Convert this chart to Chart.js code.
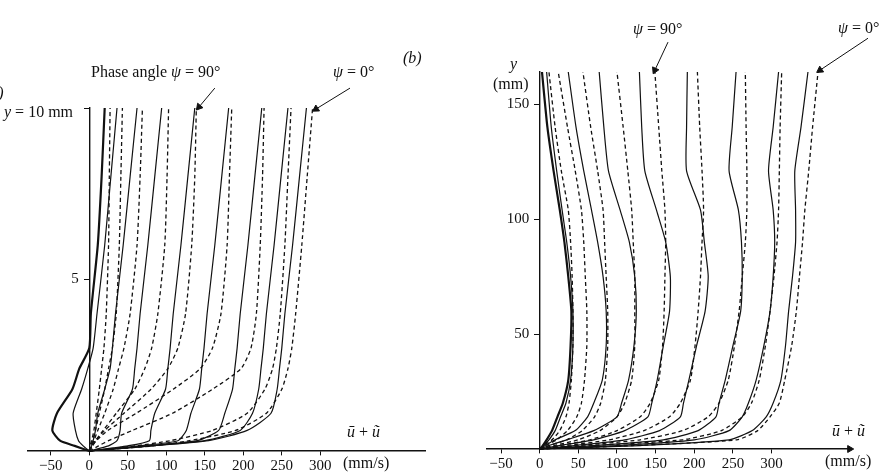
<!DOCTYPE html>
<html><head><meta charset="utf-8">
<title>Velocity profiles over a phase cycle</title>
<style>
  body { margin: 0; background: #fff; font-family: 'Liberation Serif', 'DejaVu Serif', serif; }
  #wrap { position: relative; width: 883px; height: 474px; overflow: hidden; }
  canvas { position: absolute; top: 0; }
  .lbl { position: absolute; font-size: 16px; color: #111; white-space: nowrap; line-height: 1; }
</style>
<script src="https://cdn.jsdelivr.net/npm/chart.js"></script>
</head>
<body>
<div id="wrap">
  <canvas id="leftChart" width="440" height="474" style="left:0"></canvas>
  <canvas id="rightChart" width="443" height="474" style="left:440px"></canvas>

  <div class="lbl" style="left:-15px;top:85px"><i>(a)</i></div>
  <div class="lbl" style="left:91px;top:64px">Phase angle <i>ψ</i> = 90°</div>
  <div class="lbl" style="left:333px;top:64px"><i>ψ</i> = 0°</div>
  <div class="lbl" style="left:4px;top:104px"><i>y</i> = 10 mm</div>
  <div class="lbl" style="left:347px;top:424px"><i>u&#772;</i> + <i>u&#771;</i></div>
  <div class="lbl" style="left:343px;top:455px">(mm/s)</div>

  <div class="lbl" style="left:403px;top:50px"><i>(b)</i></div>
  <div class="lbl" style="left:633px;top:21px"><i>ψ</i> = 90°</div>
  <div class="lbl" style="left:838px;top:20px"><i>ψ</i> = 0°</div>
  <div class="lbl" style="left:510px;top:56px"><i>y</i></div>
  <div class="lbl" style="left:493px;top:76px">(mm)</div>
  <div class="lbl" style="left:832px;top:423px"><i>u&#772;</i> + <i>u&#771;</i></div>
  <div class="lbl" style="left:825px;top:453px">(mm/s)</div>
</div>

<script>
  // ---- (a) y in mm, velocities in mm/s, one array per phase ----
  const leftY = [0, 0.15, 0.3, 0.6, 1.1, 1.8, 2.4, 3, 4, 6, 8, 10];
  const leftSolid = [
    [0, -19, -38, -48, -42, -22, -13, 0, 2, 11, 16, 20],
    [0, -8, -14, -18, -21, -10, -2, 5, 10, 20, 28, 36],
    [0, 3, 5, 8, 11, 20, 27, 30, 34, 44, 53, 62],
    [0, 25, 36, 40, 42, 56, 59, 62, 66, 76, 85, 94],
    [0, 50, 78, 80, 85, 99, 102, 105, 109, 119, 128, 137],
    [0, 65, 115, 126, 132, 143, 146, 149, 153, 163, 172, 181],
    [0, 75, 140, 168, 176, 186, 189, 192, 196, 206, 215, 224],
    [0, 80, 150, 196, 212, 220, 223, 226, 230, 240, 249, 258],
    [0, 82, 155, 205, 236, 244, 247, 250, 254, 264, 273, 282]
  ];
  const leftDashed = [
    [0, 1, 3, 6, 9, 13, 16, 19, 22, 25, 26, 27],
    [0, 2, 4, 8, 13, 20, 25, 30, 35, 39, 41, 43],
    [0, 3, 6, 11, 20, 31, 38, 45, 53, 62, 66, 69],
    [0, 4, 8, 18, 35, 59, 72, 81, 89, 98, 101, 103],
    [0, 4, 8, 20, 45, 80, 102, 115, 125, 133, 137, 139],
    [0, 4, 9, 24, 61, 109, 144, 160, 171, 179, 182, 185],
    [0, 12, 25, 56, 108, 160, 197, 210, 217, 222, 225, 227],
    [0, 60, 105, 160, 205, 228, 238, 243, 248, 254, 258, 262],
    [0, 83, 130, 190, 230, 250, 258, 263, 268, 276, 283, 290]
  ];
  const leftXTicks = [-50, 0, 50, 100, 150, 200, 250, 300];
  const leftYTicks = [5, 10];

  // ---- (b) ----
  const rightY = [0, 1.5, 4, 8, 14, 20, 30, 45, 60, 75, 90, 104, 121, 140, 164];
  const rightSolid = [
    [0, 4, 9, 16, 23, 30, 37, 40, 41, 37, 32, 26, 18, 10, 3],
    [0, 5, 12, 20, 27, 34, 40, 43, 43, 40, 35, 29, 22, 15, 9],
    [0, 7, 20, 46, 62, 70, 81, 86, 86, 82, 75, 67, 57, 47, 37],
    [0, 12, 35, 70, 100, 106, 115, 122, 125, 123, 116, 104, 89, 83, 77],
    [0, 25, 70, 110, 140, 145, 152, 160, 168, 169, 163, 151, 136, 132, 129],
    [0, 45, 110, 155, 182, 186, 193, 203, 214, 218, 213, 208, 190, 190, 191],
    [0, 70, 160, 205, 228, 232, 240, 250, 260, 262, 261, 257, 245, 249, 254],
    [0, 100, 200, 245, 262, 270, 280, 290, 298, 302, 304, 302, 296, 302, 309],
    [0, 130, 245, 275, 293, 302, 312, 318, 322, 327, 331, 331, 330, 338, 347]
  ];
  const rightDashed = [
    [0, 5, 16, 26, 34, 38, 41, 43, 43, 42, 40, 37, 28, 20, 12],
    [0, 8, 22, 36, 48, 54, 58, 61, 61, 59, 57, 54, 46, 36, 24],
    [0, 12, 35, 55, 71, 79, 85, 88, 88, 86, 84, 82, 75, 66, 56],
    [0, 18, 50, 78, 100, 110, 119, 123, 123, 123, 121, 119, 114, 108, 100],
    [0, 25, 65, 100, 130, 143, 154, 159, 161, 162, 163, 162, 158, 154, 149],
    [0, 35, 90, 135, 168, 182, 195, 201, 205, 208, 210, 212, 210, 207, 204],
    [0, 50, 130, 185, 218, 232, 244, 252, 258, 262, 266, 268, 268, 267, 266],
    [0, 70, 185, 235, 262, 274, 284, 292, 298, 303, 307, 309, 310, 311, 313],
    [0, 120, 255, 282, 298, 310, 317, 326, 332, 336, 340, 343, 348, 353, 360]
  ];
  const rightXTicks = [-50, 0, 50, 100, 150, 200, 250, 300];
  const rightYTicks = [50, 100, 150];

  // label arrows: [from u, from y, to u, to y, head rotation]
  const leftArrows = [[163, 10.58, 142.5, 10.03, 220], [338.6, 10.58, 294.4, 9.97, 238]];
  const rightArrows = [[166, 177, 149, 164.8, 205], [424.7, 178.7, 362.6, 164.8, 236]];

  Chart.defaults.font.family = "'Liberation Serif', 'DejaVu Serif', serif";
  Chart.defaults.font.size = 15;
  Chart.defaults.color = '#111';

  function pts(us, ys) {
    return us.map((u, i) => ({ x: u, y: ys[i] }));
  }

  function lineSet(us, ys, dashed, width) {
    return {
      data: pts(us, ys),
      showLine: true,
      borderColor: '#111',
      borderWidth: width,
      borderDash: dashed ? [4, 3] : [],
      pointRadius: 0,
      tension: 0.2,
      clip: false
    };
  }

  function arrowSet(a) {
    return {
      data: [{ x: a[0], y: a[1] }, { x: a[2], y: a[3] }],
      showLine: true,
      borderColor: '#111',
      backgroundColor: '#111',
      borderWidth: 1,
      pointRadius: [0, 4],
      pointStyle: 'triangle',
      pointRotation: a[4],
      clip: false
    };
  }

  // y labels sit right against the axis when it is placed at x = 0, so pad them
  const gap = '\u2002\u2009';

  function makePanel(id, ys, solids, dashes, arrows, opts) {
    const datasets = [];
    solids.forEach((us, i) => datasets.push(lineSet(us, ys, false, i === 0 ? 2.2 : 1.2)));
    dashes.forEach(us => datasets.push(lineSet(us, ys, true, 1.3)));
    arrows.forEach(a => datasets.push(arrowSet(a)));
    if (opts.axisArrow) {
      datasets.push({
        data: [{ x: opts.xMax, y: 0 }],
        pointRadius: 4, pointStyle: 'triangle', pointRotation: 90,
        backgroundColor: '#111', borderColor: '#111', clip: false
      });
    }
    new Chart(document.getElementById(id), {
      type: 'scatter',
      data: { datasets },
      options: {
        responsive: false,
        animation: false,
        layout: { padding: opts.padding },
        plugins: { legend: { display: false }, tooltip: { enabled: false } },
        scales: {
          x: {
            type: 'linear', min: opts.xMin, max: opts.xMax,
            position: { y: 0 },
            afterFit: s => { s.height = 0; },
            afterBuildTicks: s => { s.ticks = opts.xTicks.map(v => ({ value: v })); },
            border: { color: '#111', width: 1.4 },
            grid: { drawOnChartArea: false, drawTicks: true, tickLength: 4, color: '#111' },
            ticks: { padding: 2, maxRotation: 0, autoSkip: false,
                     callback: v => v < 0 ? '\u2212' + Math.abs(v) : v }
          },
          y: {
            type: 'linear', min: 0, max: opts.yMax,
            position: { x: 0 },
            afterFit: s => { s.width = 0; },
            afterBuildTicks: s => { s.ticks = opts.yTicks.map(v => ({ value: v })); },
            border: { color: '#111', width: 1.4 },
            grid: { drawOnChartArea: false, drawTicks: true, tickLength: 5, color: '#111' },
            ticks: { padding: 2, autoSkip: false, callback: opts.yLabel }
          }
        }
      }
    });
  }

  makePanel('leftChart', leftY, leftSolid, leftDashed, leftArrows, {
    xMin: -80, xMax: 436, yMax: 10,
    xTicks: leftXTicks, yTicks: leftYTicks,
    padding: { left: 27.7, right: 15, top: 108, bottom: 23 },
    yLabel: v => v === 10 ? '' : v + gap
  });

  makePanel('rightChart', rightY, rightSolid, rightDashed, rightArrows, {
    xMin: -68, xMax: 401, yMax: 164,
    xTicks: rightXTicks, yTicks: rightYTicks,
    padding: { left: 47.1, right: 33.3, top: 72, bottom: 25 },
    yLabel: v => v + gap,
    axisArrow: true
  });
</script>
</body></html>
